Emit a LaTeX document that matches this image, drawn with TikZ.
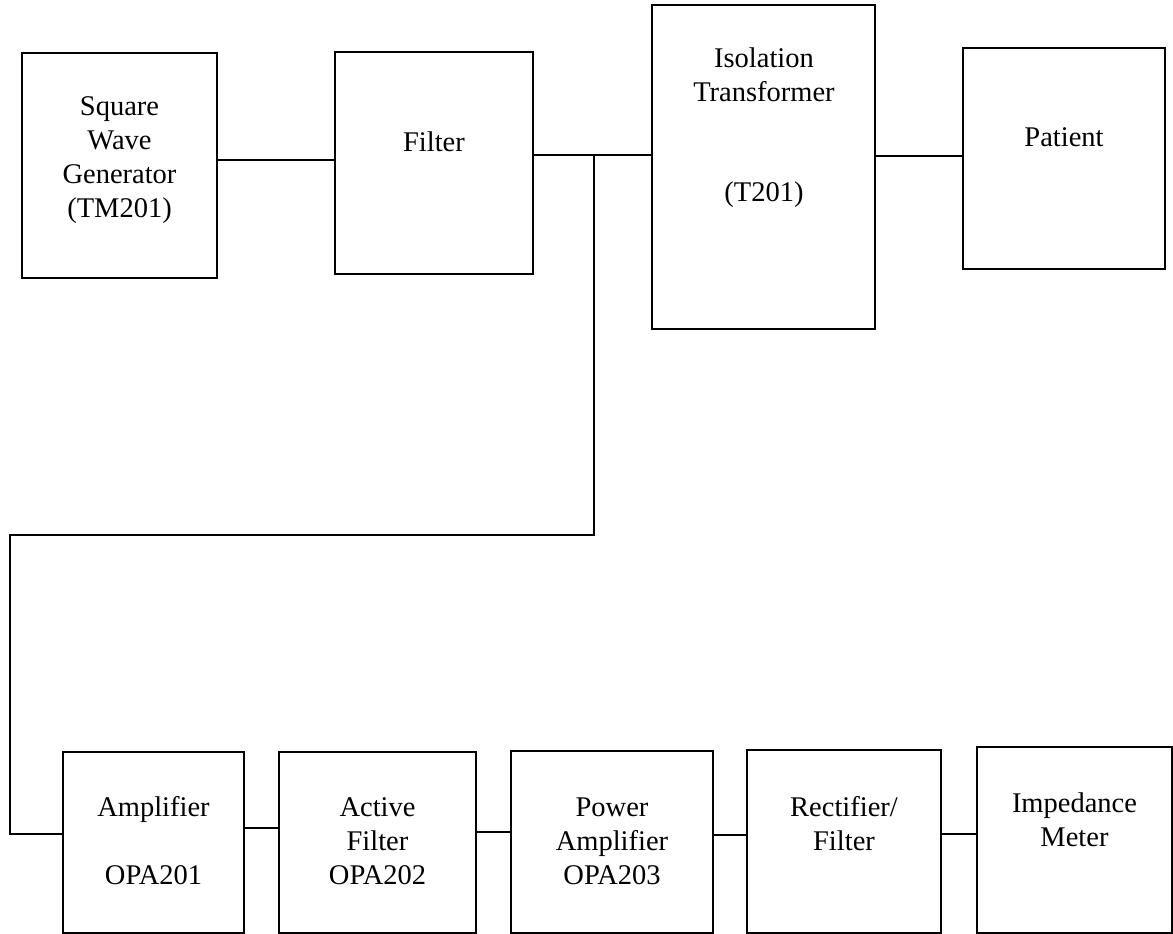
\documentclass[tikz,border=0pt]{standalone}
\usepackage{fontspec}
\setmainfont{Liberation Serif}
\usepackage{tikz}

\tikzset{
  blok/.style={draw, line width=1.3pt, inner sep=0pt},
  txt/.style={align=center, inner sep=0pt, font=\fontsize{28.5}{34}\selectfont},
  wire/.style={line width=1.3pt}
}

\begin{document}
\begin{tikzpicture}[x=1pt, y=-1pt]
            \useasboundingbox (0,0) rectangle (1173,934);
            % top row
            \node[blok, minimum width=195pt, minimum height=225pt] (swg) at (119.5,165.5) {};
            \node[blok, minimum width=198pt, minimum height=222pt] (filter) at (434,163) {};
            \node[blok, minimum width=223pt, minimum height=324pt] (iso) at (763.5,167) {};
            \node[blok, minimum width=202pt, minimum height=221pt] (patient) at (1064,158.5) {};
            \node[txt] (swgtxt) at (119.5,160) {Square\\Wave\\Generator\\(TM201)};
            \node[txt] (filtertxt) at (434,142) {Filter};
            \node[txt] (isotxt) at (764,128) {Isolation\\Transformer\\[66pt](T201)};
            \node[txt] (patienttxt) at (1064,137) {Patient};
            % bottom row
            \node[blok, minimum width=181pt, minimum height=181pt] (amp) at (153.5,842.5) {};
            \node[blok, minimum width=197pt, minimum height=181pt] (afilt) at (377.5,842.5) {};
            \node[blok, minimum width=202pt, minimum height=182pt] (pamp) at (612,842) {};
            \node[blok, minimum width=194pt, minimum height=183pt] (rect) at (844,841.5) {};
            \node[blok, minimum width=195pt, minimum height=186pt] (meter) at (1074.5,840) {};
            \node[txt] (amptxt) at (153.5,841) {Amplifier\\[34pt]OPA201};
            \node[txt] (afilttxt) at (377.5,841) {Active\\Filter\\OPA202};
            \node[txt] (pamptxt) at (612,841) {Power\\Amplifier\\OPA203};
            \node[txt] (recttxt) at (844,823.5) {Rectifier/\\Filter};
            \node[txt] (metertxt) at (1074.5,819.5) {Impedance\\Meter};
            % wiring
            \draw[wire] (swg.east |- 0,160) -- (filter.west |- 0,160);
            \draw[wire] (filter.east |- 0,155) -- (iso.west |- 0,155);
            \draw[wire] (iso.east |- 0,156) -- (patient.west |- 0,156);
            \coordinate (tap) at (594,155);
            \coordinate (turn) at (10,535);
            \draw[wire] (tap) |- (turn) |- (amp.west |- 0,834);
            \draw[wire] (amp.east |- 0,828) -- (afilt.west |- 0,828);
            \draw[wire] (afilt.east |- 0,832) -- (pamp.west |- 0,832);
            \draw[wire] (pamp.east |- 0,835) -- (rect.west |- 0,835);
            \draw[wire] (rect.east |- 0,834) -- (meter.west |- 0,834);
        \end{tikzpicture}
\end{document}
